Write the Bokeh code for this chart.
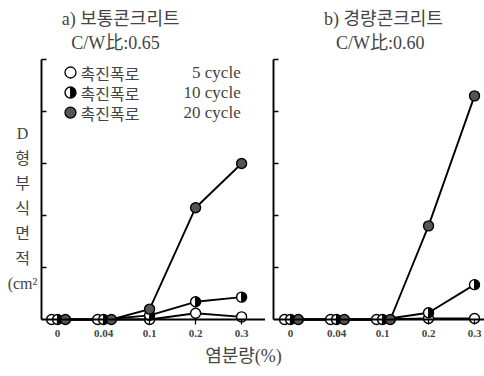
import math
from bokeh.plotting import figure
from bokeh.layouts import row, column
from bokeh.models import FixedTicker, Label
from bokeh.embed import file_html
from bokeh.resources import INLINE

# ---- data ----
salt_labels = ["0", "0.04", "0.1", "0.2", "0.3"]      # 염분량 (%)
a_5 = [0, 0, 0, 0.12, 0.05]       # 보통콘크리트, 5 cycle
a_10 = [0, 0, 0.08, 0.34, 0.43]   # 10 cycle
a_20 = [0, 0, 0.2, 2.15, 3.0]     # 20 cycle
b_5 = [0, 0, 0, 0.02, 0.02]       # 경량콘크리트, 5 cycle
b_10 = [0, 0, 0, 0.13, 0.67]
b_20 = [0, 0, 0, 1.8, 4.3]
y_ticks = [1, 2, 3, 4, 5]

series_names = ["촉진폭로", "촉진폭로", "촉진폭로"]
series_cycles = ["5 cycle", "10 cycle", "20 cycle"]
dodge = [-0.13, 0.0, 0.17]   # side-by-side offset where all series are zero

SERIF = "'Liberation Serif', 'Noto Sans CJK KR'"
KFONT = "'Noto Sans CJK KR'"

H = 344          # panel height
Y_PX = 52.0      # pixels per y unit
X_PX = 46.0      # pixels per category step
Y0 = 319         # pixel row of y = 0


def draw_half(p, xs, ys, size=10, r=4.6):
    p.scatter(xs, ys, marker="circle", size=size, fill_color="white",
              line_color="black", line_width=1.4)
    p.wedge(xs, ys, radius=r, radius_units="screen",
            start_angle=-math.pi / 2, end_angle=math.pi / 2,
            fill_color="black", line_color="black")


def make_panel(t1, t2, s5, s10, s20, width, axis_px, x_first, tx1, tx2):
    x0 = -x_first - axis_px / X_PX
    x1 = x0 + width / X_PX
    y0 = -(H - Y0) / Y_PX
    y1 = Y0 / Y_PX
    p = figure(width=width, height=H, x_range=(x0, x1), y_range=(y0, y1),
               output_backend="svg", toolbar_location=None, title=None,
               min_border=0)
    p.outline_line_color = None
    p.grid.visible = False
    p.background_fill_color = "white"

    # two-line panel title
    for txt, tx, ty in ((t1, tx1, (Y0 - 18) / Y_PX), (t2, tx2, (Y0 - 42) / Y_PX)):
        p.add_layout(Label(x=tx, y=ty, text=txt, text_font=SERIF,
                           text_font_size="18px", text_align="center",
                           text_baseline="middle"))

    series = [s5, s10, s20]
    n = len(s5)
    all_zero = [all(s[i] == 0 for s in series) for i in range(n)]
    xs_all = []
    for k, vals in enumerate(series):
        xs = [i + (dodge[k] if all_zero[i] else 0.0) for i in range(n)]
        xs_all.append(xs)
        p.line(xs, vals, line_color="black", line_width=1.9)
    p.scatter(xs_all[0], s5, marker="circle", size=10, fill_color="white",
              line_color="black", line_width=1.4)
    draw_half(p, xs_all[1], s10)
    p.scatter(xs_all[2], s20, marker="circle", size=10, fill_color="#555555",
              line_color="black", line_width=1.4)

    xa = p.xaxis[0]
    xa.fixed_location = 0
    xa.bounds = (-x_first, x1)
    xa.ticker = FixedTicker(ticks=list(range(len(salt_labels))))
    xa.major_label_overrides = {i: s for i, s in enumerate(salt_labels)}
    xa.major_tick_in = 0
    xa.major_tick_out = 5
    xa.major_tick_line_width = 1.3
    xa.minor_tick_line_color = None
    xa.axis_line_width = 1.9
    xa.major_label_standoff = 5
    xa.major_label_text_font = "Liberation Serif"
    xa.major_label_text_font_style = "bold"
    xa.major_label_text_font_size = "11px"

    ya = p.yaxis[0]
    ya.fixed_location = -x_first
    ya.bounds = (0, 5)
    ya.ticker = FixedTicker(ticks=[], minor_ticks=y_ticks)
    ya.minor_tick_in = 5
    ya.minor_tick_out = 0
    ya.minor_tick_line_width = 1.4
    ya.major_tick_line_color = None
    ya.axis_line_width = 1.9
    return p


p1 = make_panel("a) 보통콘크리트", "C/W比:0.65", a_5, a_10, a_20,
                265, 41, 0.35, 1.37, 1.26)
p2 = make_panel("b) 경량콘크리트", "C/W比:0.60", b_5, b_10, b_20,
                219, 8, 0.37, 2.02, 1.95)

# legend (left panel, upper left)
leg_x, leg_y, leg_dy = 0.28, 4.75, 0.385
for k in range(3):
    yy = leg_y - k * leg_dy
    if k == 0:
        p1.scatter([leg_x], [yy], marker="circle", size=11, fill_color="white",
                   line_color="black", line_width=1.3)
    elif k == 1:
        draw_half(p1, [leg_x], [yy], size=11, r=5.0)
    else:
        p1.scatter([leg_x], [yy], marker="circle", size=11, fill_color="#555555",
                   line_color="black", line_width=1.3)
    p1.add_layout(Label(x=leg_x + 0.22, y=yy, text=series_names[k],
                        text_font=KFONT, text_font_size="16px",
                        text_baseline="middle", text_align="left"))
    p1.add_layout(Label(x=3.98, y=yy, text=series_cycles[k],
                        text_font="Liberation Serif", text_font_size="17px",
                        text_baseline="middle", text_align="right"))

# vertical y-axis label, stacked characters
ylabel_chars = ["D", "형", "부", "식", "면", "적", "(cm²"]
for k, ch in enumerate(ylabel_chars):
    p1.add_layout(Label(x=-0.763, y=(Y0 - 133 - 25 * k) / Y_PX, text=ch,
                        text_font=SERIF, text_font_size="16px",
                        text_baseline="middle", text_align="center"))

# x-axis title under both panels
p3 = figure(width=484, height=376 - H, x_range=(0, 484), y_range=(376, H),
            output_backend="svg", toolbar_location=None, title=None,
            x_axis_type=None, y_axis_type=None, min_border=0)
p3.outline_line_color = None
p3.grid.visible = False
p3.add_layout(Label(x=243, y=355, text="염분량(%)", text_font=SERIF,
                    text_font_size="18px", text_baseline="middle",
                    text_align="center"))

layout = column(row(p1, p2), p3)
open("out.html", "w").write(file_html(layout, INLINE))
